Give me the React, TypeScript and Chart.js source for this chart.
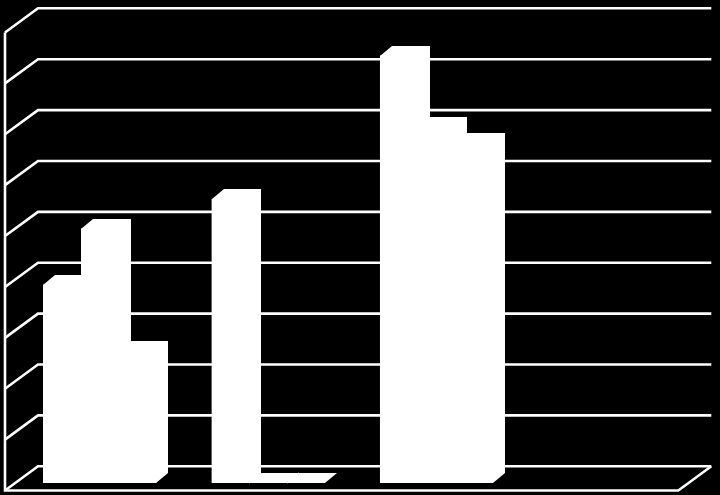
import { useEffect, useRef } from "react";
import { Chart, ChartConfiguration, Plugin, registerables } from "chart.js";

Chart.register(...registerables);

const categories = ["1", "2", "3", "4"];
const seriesA = [3.9, 5.58, 8.4, null];
const seriesB = [5.0, 0, 7.0, null];
const seriesC = [2.6, 0, 6.68, null];
const yTicks = [0, 1, 2, 3, 4, 5, 6, 7, 8, 9];

// fake 3D: wall and floor sit around the plane of the bars
const WALL_DX = 22.3;
const WALL_DY = -16.7;
const FRONT_DX = -10.7;
const FRONT_DY = 7.5;
const DEPTH_DX = 12;
const DEPTH_DY = -10;

const wallsPlugin: Plugin<"bar"> = {
  id: "walls",
  beforeDatasetsDraw(chart) {
    const { ctx, chartArea } = chart;
    const y = chart.scales.y;
    const left = chartArea.left;
    const right = chartArea.right;
    const floor = y.getPixelForValue(0);
    const top = y.getPixelForValue(yTicks[yTicks.length - 1]);

    ctx.save();
    ctx.strokeStyle = "#ffffff";
    ctx.lineWidth = 2.6;
    ctx.lineJoin = "miter";

    yTicks.forEach((tick) => {
      const py = y.getPixelForValue(tick);
      ctx.beginPath();
      ctx.moveTo(left + FRONT_DX, py + FRONT_DY);
      ctx.lineTo(left + WALL_DX, py + WALL_DY);
      ctx.lineTo(right + WALL_DX, py + WALL_DY);
      ctx.stroke();
    });

    // left edge, front floor edge and right floor edge
    ctx.beginPath();
    ctx.moveTo(left + FRONT_DX, top + FRONT_DY);
    ctx.lineTo(left + FRONT_DX, floor + FRONT_DY);
    ctx.lineTo(right + FRONT_DX, floor + FRONT_DY);
    ctx.lineTo(right + WALL_DX, floor + WALL_DY);
    ctx.stroke();
    ctx.restore();
  },
  afterDatasetsDraw(chart) {
    const { ctx } = chart;
    const y = chart.scales.y;
    const floor = Math.round(y.getPixelForValue(0));

    ctx.save();
    ctx.fillStyle = "#ffffff";
    ctx.strokeStyle = "#ffffff";
    ctx.lineWidth = 1.5;
    chart.getSortedVisibleDatasetMetas().forEach((meta) => {
      meta.data.forEach((el, i) => {
        const value = chart.data.datasets[meta.index].data[i];
        if (value == null) return;
        const props = el.getProps(["x", "y", "width"], true) as {
          x: number;
          y: number;
          width: number;
        };
        // whole pixels so neighbouring bars show no seam
        const l = Math.round(props.x - props.width / 2);
        const r = Math.round(props.x + props.width / 2);
        const barTop = Math.round(props.y);
        ctx.beginPath();
        ctx.moveTo(l, floor);
        ctx.lineTo(l, barTop);
        ctx.lineTo(l + DEPTH_DX, barTop + DEPTH_DY);
        ctx.lineTo(r + DEPTH_DX, barTop + DEPTH_DY);
        ctx.lineTo(r + DEPTH_DX, floor + DEPTH_DY);
        ctx.lineTo(r, floor);
        ctx.closePath();
        ctx.fill();

        // zero-height bar: hide the diagonal seam with the bar on its left
        if (value === 0) {
          ctx.beginPath();
          ctx.moveTo(l, floor);
          ctx.lineTo(l + DEPTH_DX, floor + DEPTH_DY);
          ctx.stroke();
        }
      });
    });
    ctx.restore();
  },
};

export default function App() {
  const canvasRef = useRef<HTMLCanvasElement>(null);

  useEffect(() => {
    if (!canvasRef.current) return;

    const config: ChartConfiguration<"bar"> = {
      type: "bar",
      data: {
        labels: categories,
        datasets: [seriesA, seriesB, seriesC].map((data) => ({
          data: data as number[],
          backgroundColor: "#ffffff",
          borderWidth: 0,
          barPercentage: 1,
          categoryPercentage: 0.672,
        })),
      },
      options: {
        responsive: false,
        animation: false,
        layout: { padding: { left: 15.7, right: 31, top: 25, bottom: 12 } },
        plugins: { legend: { display: false }, tooltip: { enabled: false } },
        scales: {
          x: { display: false },
          y: { display: false, min: 0, max: 9, ticks: { stepSize: 1 } },
        },
      },
      plugins: [wallsPlugin],
    };

    const chart = new Chart(canvasRef.current, config);
    return () => chart.destroy();
  }, []);

  return (
    <div style={{ position: "fixed", left: 0, top: 0, width: 720, height: 495, background: "#000000" }}>
      <canvas ref={canvasRef} width={720} height={495} style={{ display: "block" }}></canvas>
    </div>
  );
}
